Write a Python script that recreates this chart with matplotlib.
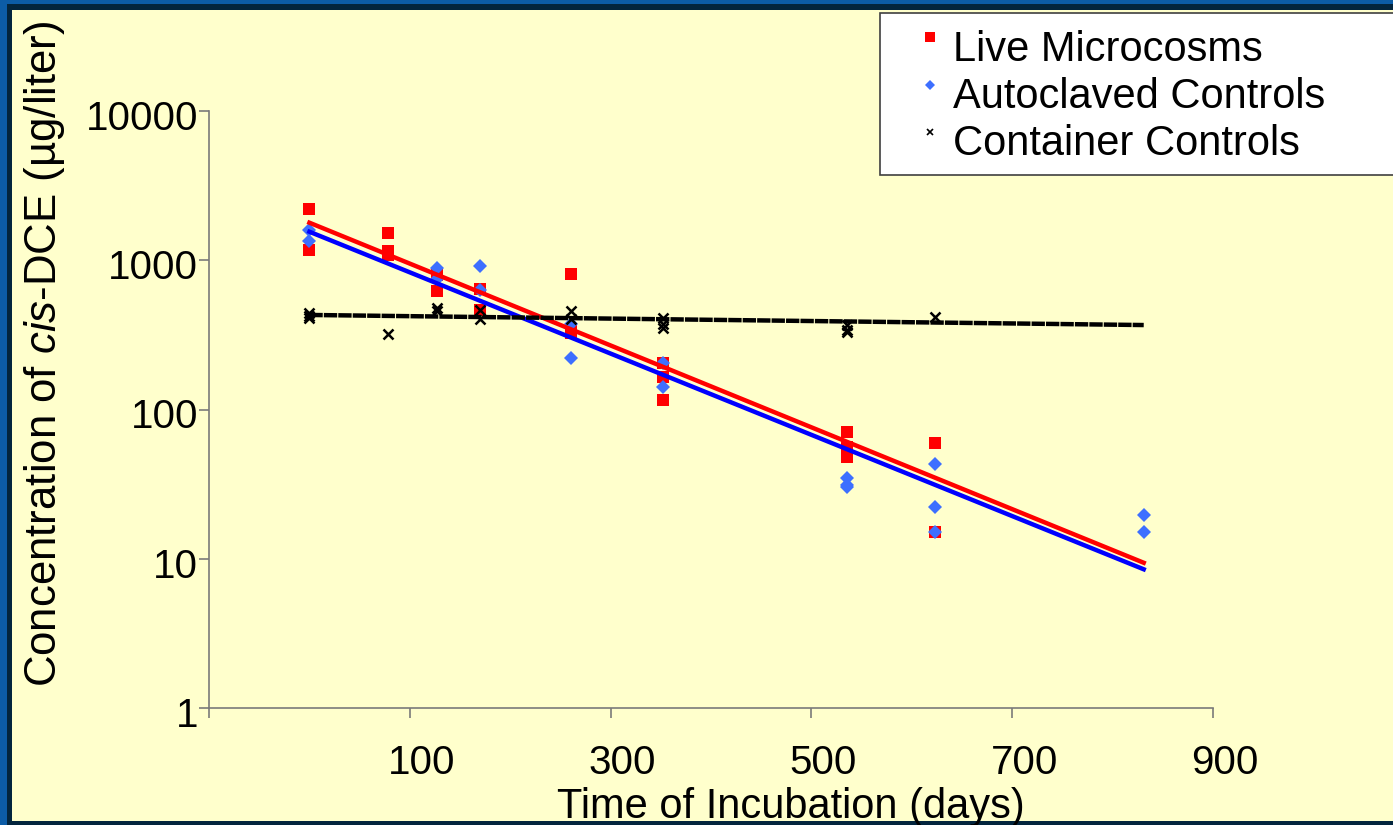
import matplotlib
matplotlib.use("Agg")
import matplotlib.pyplot as plt
import matplotlib.transforms as mtransforms
from matplotlib.patches import Rectangle
from matplotlib.lines import Line2D
import numpy as np

plt.rcParams['font.family'] = ['Liberation Sans', 'DejaVu Sans']
plt.rcParams['mathtext.fontset'] = 'custom'
plt.rcParams['mathtext.rm'] = 'Liberation Sans'
plt.rcParams['mathtext.it'] = 'Liberation Sans:italic'

# cis-DCE concentrations (ug/L) by incubation day
live_days = [0, 0, 78, 78, 78, 127, 127, 170, 170, 261, 261, 261,
             352, 352, 352, 535, 535, 535, 623, 623]
live_conc = [2195, 1166, 1517, 1153, 1084, 797, 625, 642, 464, 809, 341, 324,
             206, 166, 116, 71, 56, 48, 60, 15]

auto_days = [0, 0, 127, 127, 170, 170, 261, 261, 352, 352,
             535, 535, 535, 623, 623, 623, 831, 831]
auto_conc = [1588, 1340, 883, 745, 915, 632, 374, 221, 205, 141,
             34.9, 31.1, 30.4, 43.1, 22.1, 15.0, 19.7, 15.0]

cont_days = [0, 0, 0, 78, 127, 127, 170, 170, 261, 261,
             352, 352, 352, 535, 535, 535, 623]
cont_conc = [443, 423, 410, 321, 479, 457, 464, 404, 457, 404,
             412, 374, 353, 368, 341, 332, 419]

# exponential trendlines (end points)
trend_days = [0, 831]
live_trend = [1785, 9.4]
auto_trend = [1553, 8.5]
cont_trend = [430, 368]

x_ticks = [-100, 100, 300, 500, 700, 900]
x_labels = ['', '100', '300', '500', '700', '900']
y_ticks = [1, 10, 100, 1000, 10000]
y_labels = ['1', '10', '100', '1000', '10000']

W, H = 1393, 825
BLUE = '#0c5ca6'
NAVY = '#03253d'
YELLOW = '#ffffcc'


def fx(px):
    return px / W


def fy(py):
    return 1 - py / H


fig = plt.figure(figsize=(W / 100, H / 100), dpi=100, facecolor=BLUE)

# slide frame (kept under the axes)
fig.patches.append(Rectangle((fx(7), 0), 1, fy(4), transform=fig.transFigure,
                             facecolor=NAVY, edgecolor='none', zorder=-3))
fig.patches.append(Rectangle((fx(12), fy(821)), 1, fy(10) - fy(821),
                             transform=fig.transFigure,
                             facecolor=YELLOW, edgecolor='none', zorder=-2))

ax = fig.add_axes([fx(209), fy(708), fx(1213) - fx(209), fy(111) - fy(708)])
ax.set_facecolor('none')

ax.plot(live_days, live_conc, 's', color='#ff0000', ms=8.5, mew=0, zorder=3)
ax.plot(auto_days, auto_conc, 'D', color='#3d6fff', ms=7, mew=0, zorder=4)
ax.plot(cont_days, cont_conc, 'x', color='black', ms=7, mew=1.8, zorder=5)

ax.plot(trend_days, live_trend, color='#ff0000', lw=3.2, zorder=6)
ax.plot(trend_days, auto_trend, color='#0000ff', lw=3.2, zorder=6)
ax.plot(trend_days, cont_trend, color='black', lw=3.2, dashes=(3, 0.25), zorder=6)

ax.set_yscale('log')
ax.set_xlim(-100, 900)
ax.set_ylim(1, 10000)
ax.set_xticks(x_ticks)
ax.set_xticklabels(x_labels)
ax.set_yticks(y_ticks)
ax.set_yticklabels(y_labels)
ax.minorticks_off()

for side in ['top', 'right']:
    ax.spines[side].set_visible(False)
for side in ['left', 'bottom']:
    ax.spines[side].set_color('#7a7a7a')
    ax.spines[side].set_linewidth(1.2)
ax.tick_params(axis='both', direction='out', length=7, width=1.2,
               color='#7a7a7a', labelsize=29, labelcolor='black')
ax.tick_params(axis='x', pad=19)
ax.tick_params(axis='y', pad=1)

# nudge tick labels the way the original chart sits them
dx = mtransforms.ScaledTranslation(12 / 100, 0, fig.dpi_scale_trans)
for lbl in ax.get_xticklabels():
    lbl.set_transform(lbl.get_transform() + dx)
dy = mtransforms.ScaledTranslation(0, -4 / 100, fig.dpi_scale_trans)
for lbl in ax.get_yticklabels():
    lbl.set_transform(lbl.get_transform() + dy)

fig.text(fx(45), fy(354), r'Concentration of $\mathit{cis}$-DCE (µg/liter)',
         rotation=90, ha='center', va='center', fontsize=31.5)
fig.text(fx(791), fy(818), 'Time of Incubation (days)',
         ha='center', va='baseline', fontsize=30)

# legend box runs off the right edge
fig.patches.append(Rectangle((fx(880), fy(175)), 1, fy(13) - fy(175),
                             transform=fig.transFigure, facecolor='white',
                             edgecolor='#404040', lw=1.2, zorder=-1))
handles = [
    Line2D([], [], ls='none', marker='s', color='#ff0000', ms=7.5, mew=0),
    Line2D([], [], ls='none', marker='D', color='#3d6fff', ms=5.5, mew=0),
    Line2D([], [], ls='none', marker='x', color='black', ms=5, mew=1.2),
]
leg = fig.legend(handles, ['Live Microcosms', 'Autoclaved Controls', 'Container Controls'],
                 loc='upper left', bbox_to_anchor=(fx(922), fy(30)),
                 frameon=False, fontsize=30, labelspacing=0.17,
                 handlelength=0.4, handletextpad=0.35, borderaxespad=0, borderpad=0)
# legend symbols sit a little above the text line
up = mtransforms.ScaledTranslation(0, 9 / 100, fig.dpi_scale_trans)
for h in leg.legend_handles:
    h.set_transform(h.get_transform() + up)

fig.savefig('out.png', dpi=100, facecolor=BLUE)
